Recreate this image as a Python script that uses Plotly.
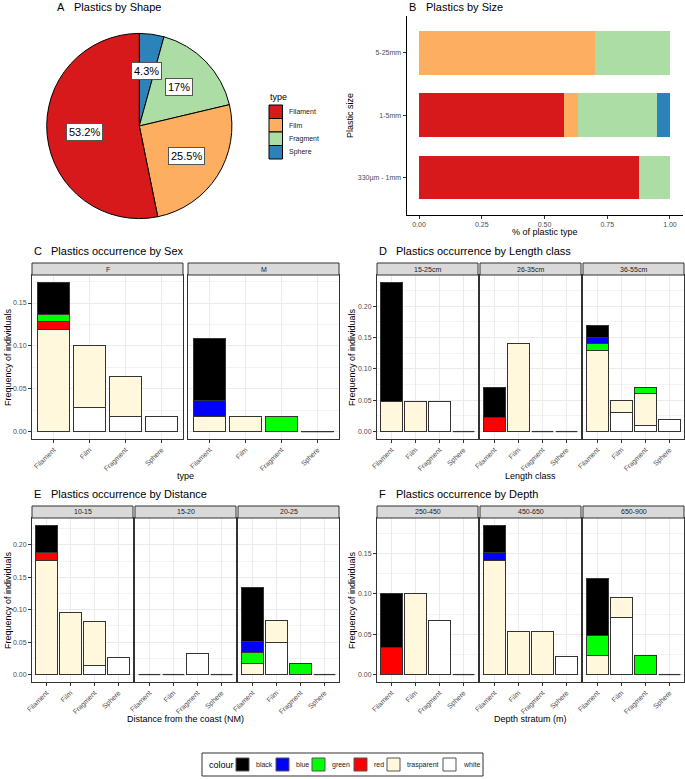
import math
import plotly.graph_objects as go

W, H = 685, 779
FONT = "Liberation Sans, Arial, Helvetica, sans-serif"

# ------------------------------------------------------------------ data
TYPES = ["Filament", "Film", "Fragment", "Sphere"]
TYPE_COLOURS = ["#D7191C", "#FDAE61", "#ABDDA4", "#2B83BA"]

# A: plastics by shape (percent)
pie_percent = [53.2, 25.5, 17.0, 4.3]

# B: plastics by size (fraction of plastic type)
size_classes = ["330µm - 1mm", "1-5mm", "5-25mm"]
size_filament = [0.875, 0.579, 0.0]
size_film = [0.0, 0.053, 0.70]
size_fragment = [0.125, 0.315, 0.30]
size_sphere = [0.0, 0.053, 0.0]

# colour of particles, stacking order bottom -> top
COLOURS = ["white", "trasparent", "red", "green", "blue", "black"]
LEGEND_ORDER = ["black", "blue", "green", "red", "trasparent", "white"]
FILLS = {"black": "#000000", "blue": "#0000FF", "green": "#00FF00",
         "red": "#FF0000", "trasparent": "#FFF8DC", "white": "#FFFFFF"}

# C: occurrence by sex (frequency of individuals, per type Filament/Film/Fragment/Sphere)
sex_levels = ["F", "M"]
sex_F = {"white": [0, 0.028, 0.018, 0.018], "trasparent": [0.119, 0.073, 0.046, 0],
         "red": [0.009, 0, 0, 0], "green": [0.009, 0, 0, 0], "black": [0.037, 0, 0, 0]}
sex_M = {"trasparent": [0.018, 0.018, 0, 0], "green": [0, 0, 0.018, 0],
         "blue": [0.018, 0, 0, 0], "black": [0.073, 0, 0, 0]}

# D: occurrence by length class
length_levels = ["15-25cm", "26-35cm", "36-55cm"]
len_15_25 = {"white": [0, 0, 0.048, 0], "trasparent": [0.048, 0.048, 0, 0],
             "black": [0.190, 0, 0, 0]}
len_26_35 = {"trasparent": [0, 0.140, 0, 0], "red": [0.023, 0, 0, 0],
             "black": [0.047, 0, 0, 0]}
len_36_55 = {"white": [0, 0.03, 0.01, 0.02], "trasparent": [0.13, 0.02, 0.05, 0],
             "green": [0.01, 0, 0.01, 0], "blue": [0.01, 0, 0, 0], "black": [0.02, 0, 0, 0]}

# E: occurrence by distance from the coast
distance_levels = ["10-15", "15-20", "20-25"]
dist_10_15 = {"white": [0, 0, 0.014, 0.027], "trasparent": [0.176, 0.095, 0.068, 0],
              "red": [0.013, 0, 0, 0], "black": [0.041, 0, 0, 0]}
dist_15_20 = {"white": [0, 0, 0.033, 0]}
dist_20_25 = {"white": [0, 0.05, 0, 0], "trasparent": [0.017, 0.033, 0, 0],
              "green": [0.017, 0, 0.017, 0], "blue": [0.017, 0, 0, 0], "black": [0.083, 0, 0, 0]}

# F: occurrence by depth stratum
depth_levels = ["250-450", "450-650", "650-900"]
depth_250_450 = {"white": [0, 0, 0.067, 0], "trasparent": [0, 0.10, 0, 0],
                 "red": [0.033, 0, 0, 0], "black": [0.067, 0, 0, 0]}
depth_450_650 = {"white": [0, 0, 0, 0.022], "trasparent": [0.141, 0.054, 0.054, 0],
                 "blue": [0.011, 0, 0, 0], "black": [0.033, 0, 0, 0]}
depth_650_900 = {"white": [0, 0.071, 0, 0], "trasparent": [0.024, 0.024, 0, 0],
                 "green": [0.024, 0, 0.024, 0], "black": [0.071, 0, 0, 0]}

# ------------------------------------------------------------------ helpers
def fx(p):
    return p / W


def fy(p):
    return 1 - p / H


fig = go.Figure()
layout = dict(width=W, height=H, margin=dict(l=0, r=0, t=0, b=0),
              paper_bgcolor="white", plot_bgcolor="white", barmode="stack",
              showlegend=False, font=dict(family=FONT, color="#000000"))
annotations = []
shapes = []

TICK_FONT = dict(family=FONT, size=7, color="#4D4D4D")
GRID = "#EBEBEB"
BORDER = "#333333"


def text(x, y, s, size=7, color="#000000", xanchor="center", angle=0):
    annotations.append(dict(x=fx(x), y=fy(y), xref="paper", yref="paper", text=s,
                            showarrow=False, xanchor=xanchor, yanchor="middle",
                            textangle=angle, font=dict(family=FONT, size=size, color=color)))


def title(x, y, letter, s):
    text(x, y, letter, size=11, xanchor="left")
    text(x + 17, y, s, size=11, xanchor="left")


# ------------------------------------------------------------------ A: pie
cx, cy, r = 139.3, 126.0, 92.6
order = list(range(len(TYPES)))[::-1]  # Sphere first, clockwise from 12 o'clock
fig.add_trace(go.Pie(
    labels=[TYPES[i] for i in order], values=[pie_percent[i] for i in order],
    marker=dict(colors=[TYPE_COLOURS[i] for i in order], line=dict(color="#000000", width=1)),
    sort=False, direction="clockwise", rotation=0, textinfo="none", hoverinfo="label+percent",
    domain=dict(x=[fx(cx - r), fx(cx + r)], y=[fy(cy + r), fy(cy - r)]), showlegend=False))
total = sum(pie_percent)
cum = 0.0
for i in order:
    v = pie_percent[i]
    ang = (cum + v / 2) / total * 2 * math.pi
    cum += v
    lx = cx + 0.6 * r * math.sin(ang)
    ly = cy - 0.6 * r * math.cos(ang)
    lab = (f"{v:.1f}".rstrip("0").rstrip(".")) + "%"
    annotations.append(dict(x=fx(lx), y=fy(ly), xref="paper", yref="paper", text=lab,
                            xanchor="center", yanchor="middle",
                            showarrow=False, bgcolor="white", bordercolor="#555555",
                            borderwidth=1, borderpad=2,
                            font=dict(family=FONT, size=11, color="#000000")))
title(55, 7, "A", "Plastics by Shape")

# pie legend
text(268, 97, "type", size=9, xanchor="left")
ky = 105.0
for name, col in zip(TYPES, TYPE_COLOURS):
    shapes.append(dict(type="rect", xref="paper", yref="paper", x0=fx(269), x1=fx(282.5),
                       y0=fy(ky + 13.5), y1=fy(ky), fillcolor=col,
                       line=dict(color="#000000", width=1)))
    text(287, ky + 6.75, name, size=7, color="#1A1A1A", xanchor="left")
    ky += 13.5

# ------------------------------------------------------------------ B: stacked horizontal bars
ypos = list(range(len(size_classes)))
for vals, col in zip([size_filament, size_film, size_fragment, size_sphere], TYPE_COLOURS):
    fig.add_trace(go.Bar(x=vals, y=ypos, orientation="h", width=0.7, xaxis="x", yaxis="y",
                         marker=dict(color=col, line=dict(width=0))))
layout["xaxis"] = dict(domain=[fx(406.5), fx(682.5)], anchor="y", range=[-0.05, 1.05],
                       tickvals=[0, 0.25, 0.5, 0.75, 1.0], tickformat=".2f",
                       showline=True, linecolor="#000000", linewidth=1, ticks="outside",
                       ticklen=3, tickcolor="#333333", tickfont=TICK_FONT, showgrid=False,
                       zeroline=False, automargin=False)
layout["yaxis"] = dict(domain=[fy(215), fy(15.5)], anchor="x", range=[-0.6, 2.6],
                       tickvals=ypos, ticktext=size_classes, showline=True,
                       linecolor="#000000", linewidth=1, ticks="outside", ticklen=3,
                       tickcolor="#333333", tickfont=TICK_FONT, showgrid=False,
                       zeroline=False, automargin=False)
title(407, 7, "B", "Plastics by Size")
text(350, 116, "Plastic size", size=9, angle=-90)
text(545, 232, "% of plastic type", size=9)

# ------------------------------------------------------------------ facet groups
axis_n = [1]


def facet_group(levels, datas, panels_x, y_top, y_bot, letter, ttl, xtitle, xt_y, yt_x):
    totals = []
    for d in datas:
        for i in range(len(TYPES)):
            totals.append(sum(d.get(c, [0] * 4)[i] for c in COLOURS))
    ymax = max(totals)
    yr = [-0.05 * ymax, 1.05 * ymax]
    xs = list(range(len(TYPES)))
    for k, (lev, d, (x0, x1)) in enumerate(zip(levels, datas, panels_x)):
        axis_n[0] += 1
        n = axis_n[0]
        xa, ya = f"x{n}", f"y{n}"
        layout[f"xaxis{n}"] = dict(domain=[fx(x0), fx(x1)], anchor=ya, range=[-0.6, 3.6],
                                   tickvals=xs, ticktext=TYPES, tickangle=-45,
                                   showline=True, mirror=True, linecolor=BORDER, linewidth=1,
                                   ticks="outside", ticklen=3, tickcolor=BORDER,
                                   tickfont=TICK_FONT, showgrid=True, gridcolor=GRID,
                                   gridwidth=1, zeroline=False, automargin=False)
        ydict = dict(domain=[fy(y_bot), fy(y_top)], anchor=xa, range=yr, dtick=0.05, tick0=0,
                     tickformat=".2f", showline=True, mirror=True, linecolor=BORDER,
                     linewidth=1, showgrid=True, gridcolor=GRID, gridwidth=1,
                     minor=dict(dtick=0.025, tick0=0, showgrid=True, gridcolor="#F3F3F3",
                                gridwidth=0.6, ticks=""),
                     zeroline=False, automargin=False, tickfont=TICK_FONT)
        if k == 0:
            ydict.update(ticks="outside", ticklen=3, tickcolor=BORDER, showticklabels=True)
        else:
            ydict.update(ticks="", showticklabels=False)
        layout[f"yaxis{n}"] = ydict
        for c in COLOURS:
            if c not in d:
                continue
            fig.add_trace(go.Bar(x=xs, y=d[c], width=0.9, xaxis=xa, yaxis=ya, name=c,
                                 marker=dict(color=FILLS[c], line=dict(color=BORDER, width=1))))
        # zero-height bars are drawn as an outline on the baseline
        for i in xs:
            if sum(d.get(c, [0] * 4)[i] for c in COLOURS) == 0:
                fig.add_trace(go.Scatter(x=[i - 0.45, i + 0.45], y=[0, 0], mode="lines",
                                         xaxis=xa, yaxis=ya, hoverinfo="skip",
                                         line=dict(color=BORDER, width=1.2)))
        # strip
        shapes.append(dict(type="rect", xref="paper", yref="paper", x0=fx(x0), x1=fx(x1),
                           y0=fy(y_top), y1=fy(y_top - 12), fillcolor="#D9D9D9",
                           line=dict(color=BORDER, width=1), layer="above"))
        text((x0 + x1) / 2, y_top - 6, lev, size=7, color="#1A1A1A")
    title(panels_x[0][0], y_top - 24, letter, ttl)
    text((panels_x[0][0] + panels_x[-1][1]) / 2, xt_y, xtitle, size=9)
    text(yt_x, (y_top + y_bot) / 2, "Frequency of individuals", size=9, angle=-90)


facet_group(sex_levels, [sex_F, sex_M], [(32, 183), (188, 339)], 275, 439,
            "C", "Plastics occurrence by Sex", "type", 476, 8)
facet_group(length_levels, [len_15_25, len_26_35, len_36_55],
            [(377, 478), (480, 581), (583, 684)], 275, 439,
            "D", "Plastics occurrence by Length class", "Length class", 476, 352)
facet_group(distance_levels, [dist_10_15, dist_15_20, dist_20_25],
            [(32, 133), (135, 236), (238, 339)], 518, 682,
            "E", "Plastics occurrence by Distance", "Distance from the coast (NM)", 719, 8)
facet_group(depth_levels, [depth_250_450, depth_450_650, depth_650_900],
            [(377, 478), (480, 581), (583, 684)], 518, 682,
            "F", "Plastics occurrence by Depth", "Depth stratum (m)", 719, 352)

# ------------------------------------------------------------------ bottom colour legend
shapes.append(dict(type="rect", xref="paper", yref="paper", x0=fx(202), x1=fx(483),
                   y0=fy(776), y1=fy(753), fillcolor="rgba(0,0,0,0)",
                   line=dict(color="#333333", width=1)))
text(207, 764.5, "colour", size=9, xanchor="left")
key_left = [236, 276, 312, 354, 387, 443]
for c, kx in zip(LEGEND_ORDER, key_left):
    shapes.append(dict(type="rect", xref="paper", yref="paper", x0=fx(kx), x1=fx(kx + 13),
                       y0=fy(771), y1=fy(758), fillcolor=FILLS[c],
                       line=dict(color="#555555", width=1)))
    text(kx + 18, 764.5, c, size=7, color="#1A1A1A", xanchor="left")

layout["annotations"] = annotations
layout["shapes"] = shapes
fig.update_layout(**layout)
fig.write_html(
    "out.html",
    config={"displayModeBar": False},
    post_script="document.body.style.margin='0';document.body.style.overflow='hidden';",
)
